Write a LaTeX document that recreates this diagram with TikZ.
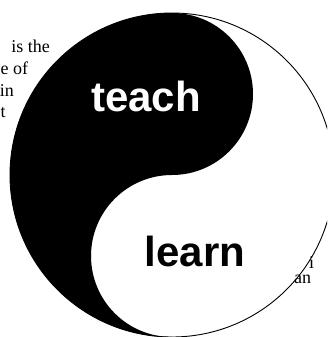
\documentclass[tikz,border=0pt]{standalone}
\usepackage{fontspec}
\setmainfont{Liberation Serif}
\newfontfamily\boldsans{Liberation Sans}
\begin{document}
\begin{tikzpicture}[x=1pt,y=1pt,
  para/.style={inner sep=0pt,font=\fontsize{18}{21}\selectfont},
  bigword/.style={inner sep=0pt,font=\boldsans\bfseries\fontsize{42}{48}\selectfont}]
\useasboundingbox (0,0) rectangle (327,337);
% paragraph fragments
\node[para,anchor=base east] (l1) at (50,284) {is the};
\node[para,anchor=base west] (l2) at (0.5,262) {e of};
\node[para,anchor=base east] (l3) at (14,240) {in};
\node[para,anchor=base west] (l4) at (0.5,219) {t};
\node[para,anchor=base west] (r1) at (309,68) {i};
\node[para,anchor=base west] (r2) at (294,53) {an};
% yin-yang
\begin{scope}
\clip (0,0) rectangle (327,337);
\fill[black] (172,324) arc[start angle=90,end angle=270,radius=162]
  arc[start angle=270,end angle=90,radius=81]
  arc[start angle=270,end angle=450,radius=81] -- cycle;
\draw[line width=0.9pt] (172,162) circle[radius=162];
\end{scope}
\node[bigword,text=white,anchor=base] (teach) at (146,225) {teach};
\node[bigword,text=black,anchor=base] (learn) at (195,70) {learn};
\end{tikzpicture}
\end{document}
